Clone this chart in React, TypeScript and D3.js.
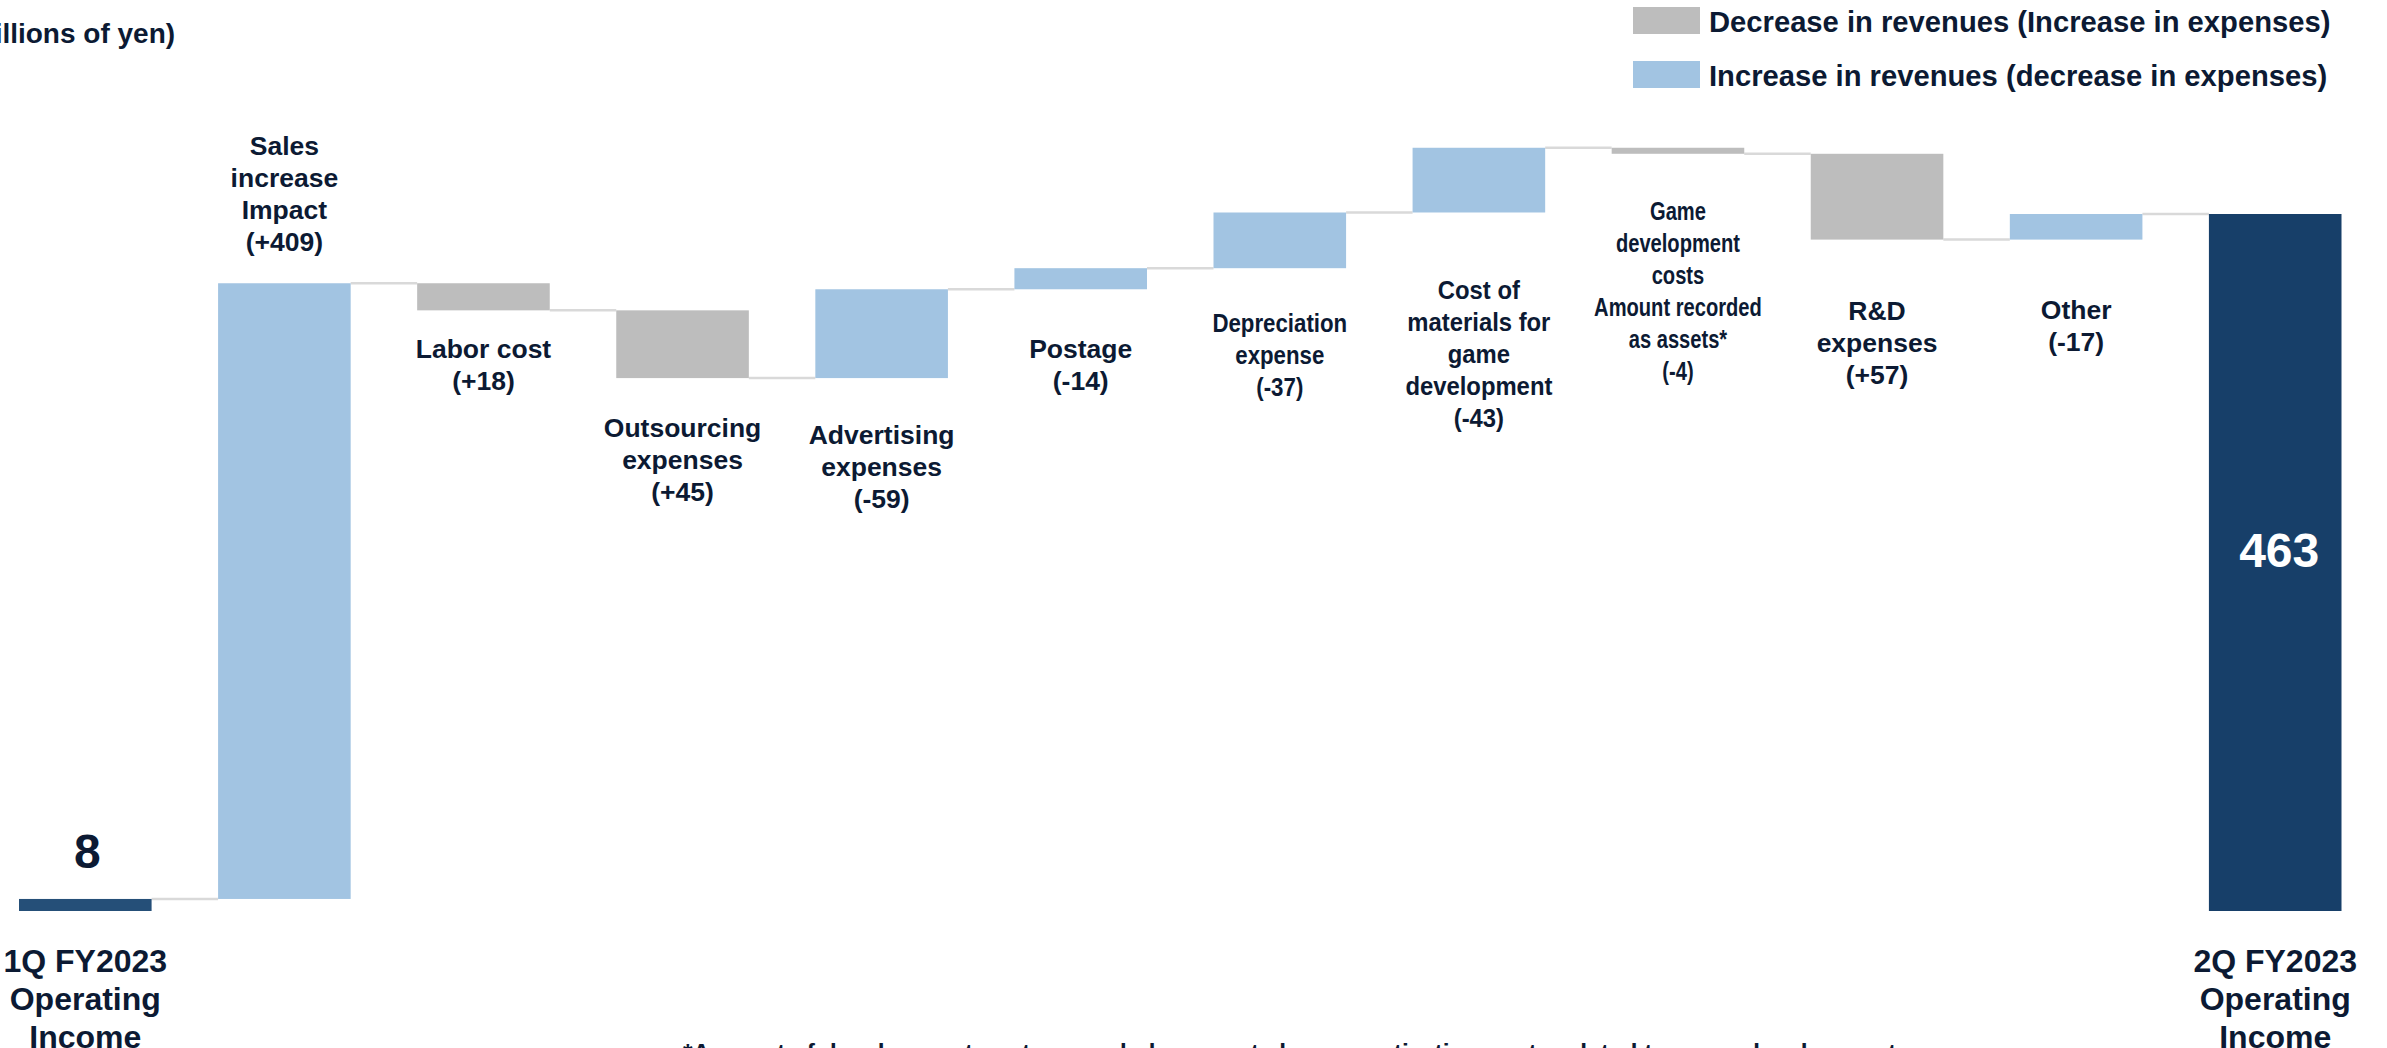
import React, { useEffect } from "react";
import * as d3 from "d3";

// ---------- data ----------
const categories = [
  "1Q FY2023 Operating Income",
  "Sales increase Impact",
  "Labor cost",
  "Outsourcing expenses",
  "Advertising expenses",
  "Postage",
  "Depreciation expense",
  "Cost of materials for game development",
  "Game development costs Amount recorded as assets*",
  "R&D expenses",
  "Other",
  "2Q FY2023 Operating Income",
];
// effect on operating income (millions of yen)
const incomeEffect = [8, 409, -18, -45, 59, 14, 37, 43, -4, -57, 17, 463];
const barKinds = ["total", "delta", "delta", "delta", "delta", "delta", "delta", "delta", "delta", "delta", "delta", "total"];
const labelLines = [
  ["1Q FY2023", "Operating", "Income"],
  ["Sales", "increase", "Impact"],
  ["Labor cost"],
  ["Outsourcing", "expenses"],
  ["Advertising", "expenses"],
  ["Postage"],
  ["Depreciation", "expense"],
  ["Cost of", "materials for", "game", "development"],
  ["Game", "development", "costs", "Amount recorded", "as assets*"],
  ["R&D", "expenses"],
  ["Other"],
  ["2Q FY2023", "Operating", "Income"],
];
const valueLabels = ["8", "(+409)", "(+18)", "(+45)", "(-59)", "(-14)", "(-37)", "(-43)", "(-4)", "(+57)", "(-17)", "463"];
const legendItems = ["Decrease in revenues (Increase in expenses)", "Increase in revenues (decrease in expenses)"];
const unitLabel = "(Millions of yen)";
const footnote = "*Amount of development costs recorded as assets less amortization costs related to game development";

// ---------- layout (not data) ----------
const W = 2387;
const H = 1048;
// first-line baseline offset: below the bar's lower edge (positive), or above its top edge (labelAbove)
const labelOffset = [61, -128, 47.5, 59, 66, 68.5, 63.5, 87, 66, 80, 79, 61];
const labelAbove = [false, true, false, false, false, false, false, false, false, false, false, false];
// horizontal squeeze of label text (narrow type in the original)
const labelSqueeze = [1, 1, 1, 1, 1, 1, 0.84, 0.9, 0.76, 1, 1, 1];

const COLORS = {
  start: "#254f78",
  end: "#173f69",
  up: "#a2c4e2",
  down: "#bdbdbd",
  connector: "#d9d9d9",
  text: "#0c1a33",
};
const FONT = "'Liberation Sans', Arial, Helvetica, sans-serif";

export default function App() {
  useEffect(() => {
    document.body.style.margin = "0";
    document.body.style.overflow = "hidden";
  }, []);

  const x = d3
    .scaleBand<string>()
    .domain(categories)
    .range([19, 2341.5])
    .paddingInner(0.334)
    .paddingOuter(0);
  const y = d3.scaleLinear().domain([0, 463]).range([911, 214]);

  // build waterfall
  let running = 0;
  const bars = categories.map((c, i) => {
    let lo: number, hi: number, end: number;
    if (barKinds[i] === "total") {
      lo = 0;
      hi = incomeEffect[i];
      end = incomeEffect[i];
    } else {
      const s = running;
      end = running + incomeEffect[i];
      lo = Math.min(s, end);
      hi = Math.max(s, end);
    }
    running = end;
    let fill: string;
    if (barKinds[i] === "total") fill = i === 0 ? COLORS.start : COLORS.end;
    else fill = incomeEffect[i] >= 0 ? COLORS.up : COLORS.down;
    return { c, i, lo, hi, end, fill };
  });

  const bw = x.bandwidth();
  const lineH = 32;

  return (
    <svg width={W} height={H} style={{ display: "block" }} fontFamily={FONT}>
      <rect x={0} y={0} width={W} height={H} fill="#ffffff" />

      {/* unit label */}
      <text x={-38} y={43} fontSize={28} fontWeight="bold" fill={COLORS.text}>
        {unitLabel}
      </text>

      {/* legend */}
      {legendItems.map((t, k) => (
        <g key={t}>
          <rect x={1633} y={7 + k * 54} width={67} height={27} fill={k === 0 ? COLORS.down : COLORS.up} />
          <text x={1709} y={32 + k * 54} fontSize={29.2} fontWeight="bold" fill={COLORS.text}>
            {t}
          </text>
        </g>
      ))}

      {/* connectors */}
      {bars.slice(0, -1).map((b, k) => (
        <line
          key={"c" + k}
          x1={(x(b.c) as number) + bw}
          x2={x(bars[k + 1].c) as number}
          y1={y(b.end)}
          y2={y(b.end)}
          stroke={COLORS.connector}
          strokeWidth={2.5}
        />
      ))}

      {/* bars */}
      {bars.map((b) => (
        <rect
          key={b.c}
          x={x(b.c) as number}
          y={y(b.hi)}
          width={bw}
          height={y(b.lo) - y(b.hi)}
          fill={b.fill}
        />
      ))}

      {/* category labels */}
      {bars.map((b) => {
        const cx = (x(b.c) as number) + bw / 2;
        const isTotal = barKinds[b.i] === "total";
        const lines = isTotal ? labelLines[b.i] : [...labelLines[b.i], valueLabels[b.i]];
        const y0 = (labelAbove[b.i] ? y(b.hi) : y(b.lo)) + labelOffset[b.i];
        const fs = isTotal ? 32 : 26.5;
        const lh = isTotal ? 38 : lineH;
        return (
          <text
            key={"l" + b.c}
            transform={`translate(${cx},0) scale(${labelSqueeze[b.i]},1)`}
            textAnchor="middle"
            fontSize={fs}
            fontWeight="bold"
            fill={COLORS.text}
          >
            {lines.map((ln, k) => (
              <tspan key={k} x={0} y={y0 + k * lh}>
                {ln}
              </tspan>
            ))}
          </text>
        );
      })}

      {/* total values */}
      <text
        x={(x(categories[0]) as number) + bw / 2 + 2}
        y={y(incomeEffect[0]) - 31}
        textAnchor="middle"
        fontSize={48}
        fontWeight="bold"
        fill={COLORS.text}
      >
        {valueLabels[0]}
      </text>
      <text
        x={(x(categories[11]) as number) + bw / 2 + 4}
        y={(y(0) + y(incomeEffect[11])) / 2 + 4}
        textAnchor="middle"
        fontSize={48}
        fontWeight="bold"
        fill="#ffffff"
      >
        {valueLabels[11]}
      </text>

      {/* footnote (clipped at the bottom edge) */}
      <text x={683} y={1061} fontSize={24.5} fontWeight="bold" fill={COLORS.text}>
        {footnote}
      </text>
    </svg>
  );
}
